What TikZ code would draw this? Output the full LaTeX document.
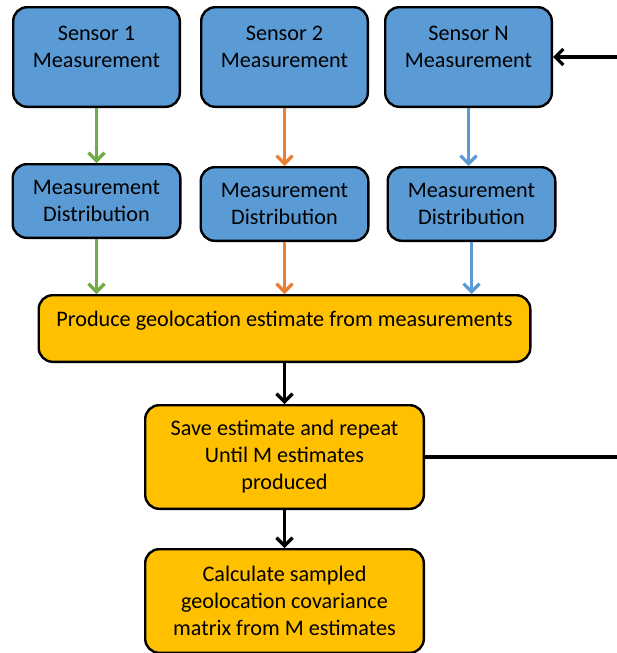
\documentclass[tikz,border=0pt]{standalone}
\usepackage{fontspec}
\setmainfont{Carlito}
\usetikzlibrary{positioning,arrows.meta}
\definecolor{boxblue}{RGB}{91,155,213}
\definecolor{boxorange}{RGB}{255,192,0}
\definecolor{arrgreen}{RGB}{112,173,71}
\definecolor{arrorange}{RGB}{237,125,49}
\tikzset{ box/.style={draw=black,line width=2.4pt,rounded corners=14pt,align=center,inner sep=0pt,font=\fontsize{22.2pt}{27pt}\selectfont},
  sensorbox/.style={box,fill=boxblue,minimum width=166.6pt,minimum height=99.6pt},
  distbox/.style={box,fill=boxblue,minimum width=167.6pt,minimum height=73.6pt},
  procbox/.style={box,fill=boxorange,minimum width=278.6pt,minimum height=103.6pt} }

\begin{document}
\begin{tikzpicture}[x=1pt,y=1pt,line width=3.2pt,>={Straight Barb[length=8pt,width=16pt]}]
   \useasboundingbox (0,0) rectangle (616,-653);
   \node[sensorbox] (s1) at (96.5,-57) {Sensor 1\\Measurement\\[-6pt]\mbox{}};
   \node[sensorbox,right=19pt of s1] (s2) {Sensor 2\\Measurement\\[-6pt]\mbox{}};
   \node[sensorbox,right=15pt of s2] (sn) {Sensor N\\Measurement\\[-6pt]\mbox{}};
   \node[distbox,below=55pt of s1] (d1) {Measurement\\Distribution};
   \node[distbox,below=58pt of s2] (d2) {Measurement\\Distribution};
   \node[distbox,below=58pt of sn,xshift=3pt] (dn) {Measurement\\Distribution};
   \node[procbox,below=52pt of d2,minimum width=491.6pt,minimum height=66.6pt] (est) {Produce geolocation estimate from measurements\\[-8pt]\mbox{}};
   \node[procbox,below=41pt of est] (save) {Save estimate and repeat\\Until M estimates\\produced};
   \node[procbox,below=38pt of save] (cov) {Calculate sampled\\geolocation covariance\\matrix from M estimates};
   \draw[->,arrgreen] (s1.south) -- (d1.north);
   \draw[->,arrgreen] (d1.south) -- (d1.south |- est.north);
   \draw[->,arrorange] (s2.south) -- (d2.north);
   \draw[->,arrorange] (d2.south) -- (d2.south |- est.north);
   \draw[->,boxblue] (sn.south) -- (sn.south |- dn.north);
   \draw[->,boxblue] (dn.south) -- (dn.south |- est.north);
   \draw[->] (est.south) -- (est.south |- save.north);
   \draw[->] (save.south) -- (cov.north);
   \draw[->] (save.east) -- ++(196,0) |- (sn.east);
\end{tikzpicture}
\end{document}
